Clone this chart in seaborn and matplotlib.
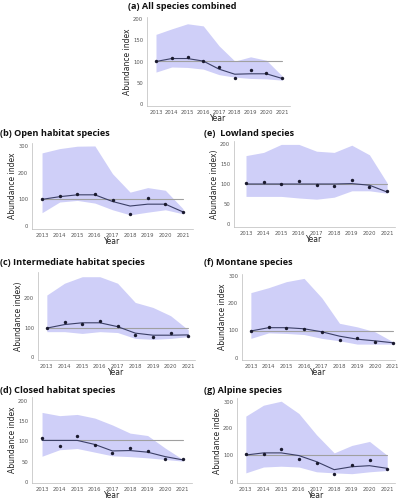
import matplotlib
matplotlib.use("Agg")
import matplotlib.pyplot as plt
import seaborn as sns
import pandas as pd
import numpy as np

""" 0. Data (read off the reference) """
years = [2013, 2014, 2015, 2016, 2017, 2018, 2019, 2020, 2021]

titles = {
    "a": "(a) All species combined",
    "b": "(b) Open habitat species",
    "c": "(c) Intermediate habitat species",
    "d": "(d) Closed habitat species",
    "e": "(e)  Lowland species",
    "f": "(f) Montane species",
    "g": "(g) Alpine species",
}
ylabels = {
    "a": "Abundance index", "b": "Abundance index", "c": "Abundance index)",
    "d": "Abundance index", "e": "Abundance index)", "f": "Abundance index",
    "g": "Abundance index",
}
yticks = {
    "a": [0, 50, 100, 150, 200], "b": [0, 100, 200, 300], "c": [0, 100, 200],
    "d": [0, 50, 100, 150, 200], "e": [0, 50, 100, 150, 200],
    "f": [0, 100, 200, 300], "g": [0, 100, 200, 300],
}
ref_level = {"a": 102, "b": 100, "c": 100, "d": 103, "e": 100, "f": 97, "g": 100}

points = {
    "a": [101, 108, 110, 102, 88, 60, 81, 73, 60],
    "b": [102, 112, 121, 120, 97, 47, 105, 81, 52],
    "c": [99, 120, 113, 122, 106, 77, 70, 81, 72],
    "d": [108, 87, 114, 90, 70, 83, 76, 55, 55],
    "e": [102, 104, 99, 108, 97, 94, 111, 93, 82],
    "f": [98, 112, 109, 107, 94, 66, 74, 57, 55],
    "g": [105, 102, 122, 86, 71, 30, 61, 82, 46],
}
trend = {
    "a": [100, 107, 107, 101, 82, 70, 71, 71, 60],
    "b": [100, 110, 117, 117, 92, 75, 82, 82, 53],
    "c": [99, 111, 117, 117, 104, 82, 75, 75, 76],
    "d": [102, 102, 102, 92, 76, 77, 73, 62, 54],
    "e": [100, 100, 100, 100, 100, 100, 101, 97, 80],
    "f": [98, 110, 110, 106, 95, 79, 68, 62, 55],
    "g": [100, 108, 108, 98, 75, 45, 56, 60, 50],
}
upper = {
    "a": [164, 177, 189, 184, 137, 101, 111, 103, 66],
    "b": [274, 290, 299, 300, 196, 127, 144, 134, 65],
    "c": [211, 251, 273, 273, 251, 186, 169, 141, 93],
    "d": [171, 163, 166, 157, 140, 120, 114, 83, 55],
    "e": [171, 179, 199, 199, 182, 179, 197, 173, 103],
    "f": [238, 256, 278, 290, 219, 126, 113, 95, 59],
    "g": [246, 287, 302, 256, 176, 108, 136, 151, 99],
}
lower = {
    "a": [75, 87, 86, 82, 69, 63, 60, 59, 56],
    "b": [50, 90, 96, 86, 61, 42, 52, 61, 46],
    "c": [87, 87, 81, 87, 84, 64, 61, 64, 70],
    "d": [63, 79, 82, 73, 64, 62, 59, 55, 51],
    "e": [69, 69, 69, 65, 62, 67, 83, 83, 77],
    "f": [71, 91, 89, 85, 71, 62, 50, 50, 50],
    "g": [33, 55, 58, 55, 37, 33, 30, 37, 42],
}

# axes boxes in pixels: left, right, top, bottom ; plus limits
W, H = 404, 500
boxes = {
    "a": (147, 290, 17, 106),
    "b": (32, 193, 143, 229),
    "e": (234, 395, 141, 227),
    "c": (38, 195, 272, 360),
    "f": (242, 395, 274, 360),
    "d": (32, 192, 397, 483),
    "g": (237, 395, 398, 483),
}
xlims = {
    "a": (2012.43, 2021.5), "b": (2012.43, 2021.57), "e": (2012.32, 2021.45),
    "c": (2012.5, 2021.38), "f": (2012.5, 2021.13), "d": (2012.43, 2021.52),
    "g": (2012.5, 2021.44),
}
ylims = {
    "a": (-5, 205), "b": (-11, 311), "e": (-7.5, 207.5), "c": (-9, 289),
    "f": (-8, 306), "d": (-3, 209), "g": (-5, 314),
}
title_pos = {"a": (128, 9), "b": (0, 136), "e": (204, 136), "c": (0, 265),
             "f": (204, 265), "d": (0, 393), "g": (204, 393)}

""" 1. Plot """
sns.set_theme(style="white")
plt.rcParams['font.family'] = ['DejaVu Sans']

fig = plt.figure(figsize=(W / 100, H / 100), dpi=100)
band_col = "#cfcff8"
line_col = "#3b3f66"

for key in ["a", "b", "e", "c", "f", "d", "g"]:
    l, r, t, b = boxes[key]
    ax = fig.add_axes([l / W, 1 - b / H, (r - l) / W, (b - t) / H])
    df = pd.DataFrame({"year": years, "index": points[key], "trend": trend[key],
                       "lo": lower[key], "hi": upper[key]})
    ax.fill_between(df["year"], df["lo"], df["hi"], color=band_col, lw=0, zorder=1)
    ax.plot([years[0], years[-1]], [ref_level[key]] * 2, color="#a0a0a0", lw=0.8, zorder=2)
    sns.lineplot(data=df, x="year", y="trend", ax=ax, color=line_col, lw=0.8, zorder=3)
    sns.scatterplot(data=df, x="year", y="index", ax=ax, color="#1a1a2e", s=6,
                    linewidth=0, zorder=4)
    ax.set_xlim(*xlims[key])
    ax.set_ylim(*ylims[key])
    ax.set_xticks(years)
    ax.set_xticklabels([str(y) for y in years], fontsize=3.8, color="#555555")
    ax.set_yticks(yticks[key])
    ax.set_yticklabels([str(v) for v in yticks[key]], fontsize=3.8, color="#555555")
    ax.tick_params(axis="both", length=1.5, width=0.4, colors="#999999", pad=1.2,
                   labelcolor="#555555")
    for s in ["top", "right"]:
        ax.spines[s].set_visible(False)
    for s in ["left", "bottom"]:
        ax.spines[s].set_color("#bbbbbb")
        ax.spines[s].set_linewidth(0.5)
    ax.set_xlabel("Year", fontsize=5.5, labelpad=-0.2, color="#222222")
    ax.set_ylabel(ylabels[key], fontsize=5.5, labelpad=0.5, color="#222222")
    tx, ty = title_pos[key]
    fig.text(tx / W, 1 - ty / H, titles[key], fontsize=6.6, fontweight="bold",
             family=["Open Sans", "DejaVu Sans"], color="#111111", va="baseline")

fig.savefig("out.png", dpi=100)
